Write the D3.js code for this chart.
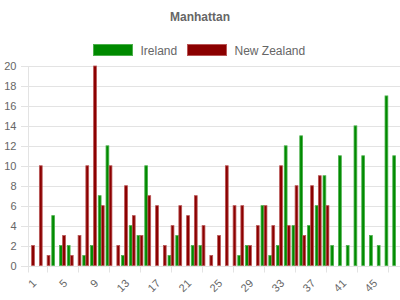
<!DOCTYPE html>
<html>
<head>
<meta charset="utf-8">
<script src="https://cdn.jsdelivr.net/npm/d3@7"></script>
<style>
  body { margin: 0; background: #fff; }
  text { font-family: "Liberation Sans", Arial, sans-serif; fill: #666; }
</style>
</head>
<body>
<div id="chart"></div>
<script>
const categories = d3.range(1, 49).map(String);
const seriesNames = ['Ireland', 'New Zealand'];
const ireland = [0, 0, 0, 5, 2, 2, 0, 1, 2, 7, 12, 0, 1, 4, 3, 10, 0, 0, 1, 3, 0, 2, 2, 0,
                 0, 0, 0, 1, 2, 0, 6, 1, 2, 12, 4, 13, 4, 6, 9, 2, 11, 2, 14, 11, 3, 2, 17, 11];
const newZealand = [2, 10, 1, 0, 3, 1, 3, 10, 20, 6, 10, 2, 8, 5, 3, 7, 6, 2, 4, 6, 5, 7, 4, 1,
                    3, 10, 6, 6, 2, 4, 6, 4, 10, 4, 8, 3, 8, 9, 6, 0, 0, 0, 0, 0, 0, 0, 0, 0];
const yTicks = d3.range(0, 21, 2);
const labelCats = categories.filter((d, i) => i % 4 === 0);
const gridCats = categories.filter((d, i) => i % 4 === 2);

(function() {
  const size = { x: 400, y: 300 };
  const plot = { left: 27.6, right: 399.6, top: 66, bottom: 265.5 };
  const colors = {
    'Ireland': { fill: '#008a00', stroke: '#4cb04c' },
    'New Zealand': { fill: '#8b0000', stroke: '#b95555' }
  };

  let svg = d3.select('#chart')
    .append('svg')
    .attr('width', size.x)
    .attr('height', size.y);

  let xScale = d3.scaleBand()
    .domain(categories)
    .range([plot.left, plot.right]);

  let xInner = d3.scaleBand()
    .domain(seriesNames)
    .range([xScale.bandwidth() * 0.1, xScale.bandwidth() * 0.9])
    .paddingInner(0.1)
    .paddingOuter(0.05);

  let yScale = d3.scaleLinear()
    .domain([0, 20])
    .range([plot.bottom, plot.top]);

  // horizontal grid + y labels
  svg.append('g')
    .selectAll('line')
    .data(yTicks)
    .enter()
    .append('line')
      .attr('x1', 21)
      .attr('x2', size.x)
      .attr('y1', d => Math.round(yScale(d)) + 0.5)
      .attr('y2', d => Math.round(yScale(d)) + 0.5)
      .attr('stroke', '#e3e3e3');

  svg.append('g')
    .selectAll('text')
    .data(yTicks)
    .enter()
    .append('text')
      .attr('x', 16.5)
      .attr('y', d => yScale(d) + 4)
      .attr('text-anchor', 'end')
      .style('font-size', '11px')
      .text(d => d);

  // y axis line
  svg.append('line')
    .attr('x1', 28.5).attr('x2', 28.5)
    .attr('y1', yScale(20)).attr('y2', plot.bottom + 7)
    .attr('stroke', '#e3e3e3');

  // x tick marks
  svg.append('g')
    .selectAll('line')
    .data(gridCats)
    .enter()
    .append('line')
      .attr('x1', d => Math.round(xScale(d) + xScale.bandwidth() / 2) + 0.5)
      .attr('x2', d => Math.round(xScale(d) + xScale.bandwidth() / 2) + 0.5)
      .attr('y1', plot.bottom)
      .attr('y2', plot.bottom + 7)
      .attr('stroke', '#e3e3e3');

  // x labels
  svg.append('g')
    .selectAll('text')
    .data(labelCats)
    .enter()
    .append('text')
      .attr('transform', d => `translate(${xScale(d) + xScale.bandwidth() / 2 + 5.5}, 284) rotate(-45)`)
      .attr('text-anchor', 'end')
      .style('font-size', '11px')
      .text(d => d);

  // bars
  const rows = categories.map((c, i) => ({
    cat: c,
    values: [
      { name: 'Ireland', value: ireland[i] },
      { name: 'New Zealand', value: newZealand[i] }
    ]
  }));

  let groups = svg.append('g')
    .selectAll('.group')
    .data(rows)
    .enter()
    .append('g')
      .attr('class', 'group')
      .attr('transform', d => `translate(${xScale(d.cat)}, 0)`);

  groups.selectAll('rect')
    .data(d => d.values.filter(v => v.value > 0))
    .enter()
    .append('rect')
      .attr('x', d => xInner(d.name))
      .attr('width', xInner.bandwidth())
      .attr('y', d => yScale(d.value))
      .attr('height', d => plot.bottom - yScale(d.value))
      .attr('fill', d => colors[d.name].fill)
      .attr('stroke', d => colors[d.name].stroke)
      .attr('stroke-width', 0.8);

  // title
  svg.append('text')
    .attr('x', 200)
    .attr('y', 21)
    .attr('text-anchor', 'middle')
    .style('font-size', '12px')
    .style('font-weight', 'bold')
    .text('Manhattan');

  // legend
  const legendPos = [93.5, 187.5];
  let legend = svg.append('g')
    .selectAll('g')
    .data(seriesNames)
    .enter()
    .append('g')
      .attr('transform', (d, i) => `translate(${legendPos[i]}, 44.5)`);

  legend.append('rect')
    .attr('width', 39)
    .attr('height', 11)
    .attr('fill', d => colors[d].fill)
    .attr('stroke', d => colors[d].stroke);

  legend.append('text')
    .attr('x', 47)
    .attr('y', 10)
    .style('font-size', '12px')
    .text(d => d);
}());
</script>
</body>
</html>
